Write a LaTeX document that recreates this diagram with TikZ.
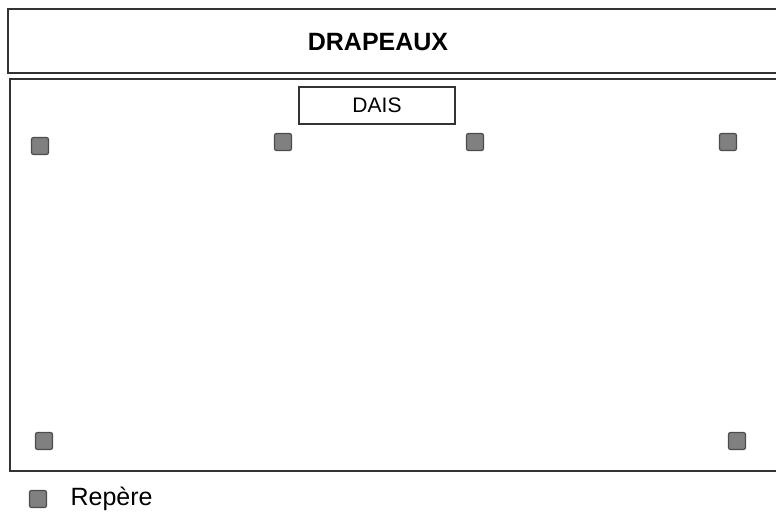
\documentclass[tikz,border=0pt]{standalone}
\usepackage{fontspec}
\setmainfont{Liberation Sans}
\usetikzlibrary{positioning}

\begin{document}
\begin{tikzpicture}[
        x=1pt, y=-1pt,
        zone/.style={rectangle, draw=black!80, line width=1.8pt, anchor=north west, inner sep=0pt},
        dais/.style={rectangle, draw=black!80, line width=1.8pt, minimum width=156pt, minimum height=37pt, text depth=0pt, font=\fontsize{21}{23}\selectfont},
        repere/.style={rectangle, rounded corners=2pt, draw=black!70, fill=black!50, line width=1.2pt, minimum size=17pt, inner sep=0pt},
    ]
    \clip (0,0) rectangle (776,516);
    \useasboundingbox (0,0) rectangle (776,516);

    \node[zone, minimum width=775pt, minimum height=64pt] (Z1) at (7,8) {};
    \node[zone, minimum width=775pt, minimum height=392pt] (Z2) at (9,78) {};

    \node[font=\bfseries\fontsize{25}{28}\selectfont] (T1) at (378,42) {DRAPEAUX};
    \node[dais]        (D1)        at (377,105.5) {DAIS};

    \node[repere]      (R1)        at (40,146)    {};
    \node[repere]      (R2)        at (283,142)   {};
    \node[repere]      (R3)        at (475,142)   {};
    \node[repere]      (R4)        at (728,142)   {};
    \node[repere]      (R5)        at (44,441)    {};
    \node[repere]      (R6)        at (737,441)   {};

    \node[repere]      (L1)        at (38,499)    {};
    \node[font=\fontsize{25}{28}\selectfont, anchor=west] (L2) [right=20pt of L1] {Repère};
\end{tikzpicture}
\end{document}
